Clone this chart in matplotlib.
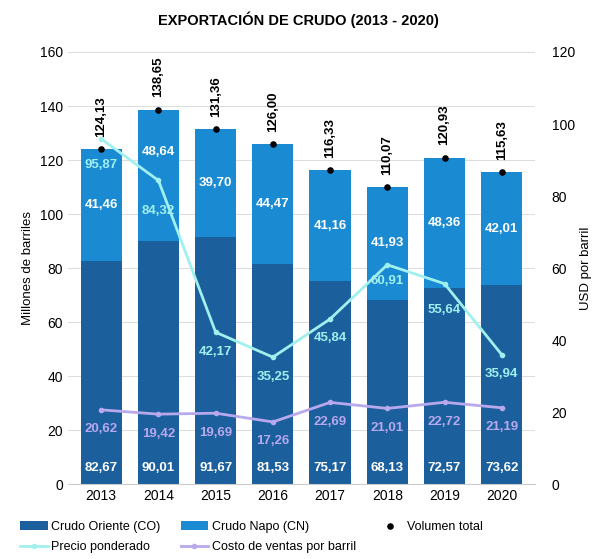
import numpy as np
import matplotlib.pyplot as plt

plt.rcParams['font.family'] = ['Liberation Sans', 'DejaVu Sans']

years = ['2013', '2014', '2015', '2016', '2017', '2018', '2019', '2020']
oriente = [82.67, 90.01, 91.67, 81.53, 75.17, 68.13, 72.57, 73.62]
napo = [41.46, 48.64, 39.70, 44.47, 41.16, 41.93, 48.36, 42.01]
total = [124.13, 138.65, 131.36, 126.00, 116.33, 110.07, 120.93, 115.63]
precio = [95.87, 84.32, 42.17, 35.25, 45.84, 60.91, 55.64, 35.94]
costo = [20.62, 19.42, 19.69, 17.26, 22.69, 21.01, 22.72, 21.19]

def fmt(v):
    return f'{v:.2f}'.replace('.', ',')

c_or = '#1b5f9c'
c_na = '#1a8ad3'
c_pr = '#a0f0ee'
c_co = '#b8a8ee'

fig = plt.figure(figsize=(5.97, 5.59), dpi=100)
ax = fig.add_axes([0.114, 0.134, 0.782, 0.773])
x = np.arange(len(years))

b1 = ax.bar(x, oriente, width=0.72, color=c_or, label='Crudo Oriente (CO)', zorder=2)
b2 = ax.bar(x, napo, width=0.72, bottom=oriente, color=c_na, label='Crudo Napo (CN)', zorder=2)
sc = ax.scatter(x, total, color='black', s=14, zorder=4, label='Volumen total')

for i in range(len(x)):
    ax.text(x[i], total[i] + 4.5, fmt(total[i]), rotation=90, ha='center', va='bottom',
            fontsize=9.5, fontweight='bold', color='black')
    # 2014 label sits higher to stay clear of the price label
    ny = oriente[i] + napo[i] * (0.68 if i == 1 else 0.5)
    ax.text(x[i], ny, fmt(napo[i]), ha='center', va='center',
            fontsize=9.5, fontweight='bold', color='white', zorder=5)
    ax.text(x[i], 6, fmt(oriente[i]), ha='center', va='center',
            fontsize=9.5, fontweight='bold', color='white', zorder=5)

ax.set_ylim(0, 160)
ax.set_yticks(range(0, 161, 20))
ax.set_xlim(-0.58, 7.58)
ax.set_xticks(x)
ax.set_xticklabels(years)
ax.set_ylabel('Millones de barriles', fontsize=9.5)
ax.grid(axis='y', color='#dddddd', linewidth=0.8, zorder=0)
ax.set_axisbelow(True)
for s in ['top', 'right', 'left']:
    ax.spines[s].set_visible(False)
ax.spines['bottom'].set_color('#cccccc')
ax.tick_params(length=0, labelsize=10)

ax2 = ax.twinx()
ax2.set_ylim(0, 120)
ax2.set_yticks(range(0, 121, 20))
l1, = ax2.plot(x, precio, color=c_pr, linewidth=2, marker='o', markersize=3, label='Precio ponderado', zorder=3)
l2, = ax2.plot(x, costo, color=c_co, linewidth=2, marker='o', markersize=3, label='Costo de ventas por barril', zorder=3)
pr_off = [-19, -22, -14, -14, -14, -12, -19, -14]
for i in range(len(x)):
    ax2.annotate(fmt(precio[i]), (x[i], precio[i]), xytext=(0, pr_off[i]), textcoords='offset points',
                 ha='center', va='center', fontsize=9.5, fontweight='bold', color=c_pr)
    ax2.annotate(fmt(costo[i]), (x[i], costo[i]), xytext=(0, -14), textcoords='offset points',
                 ha='center', va='center', fontsize=9.5, fontweight='bold', color=c_co)
ax2.set_ylabel('USD por barril', fontsize=9.5)
for s in ['top', 'right', 'left', 'bottom']:
    ax2.spines[s].set_visible(False)
ax2.tick_params(length=0, labelsize=10, pad=12)

fig.text(0.5, 0.965, 'EXPORTACIÓN DE CRUDO (2013 - 2020)', ha='center', va='center',
         fontsize=10.5, fontweight='bold')

handles = [b1, l1, b2, l2, sc]
fig.legend(handles=handles, labels=[h.get_label() for h in handles], ncol=3,
           loc='lower left', bbox_to_anchor=(0.015, -0.01), frameon=False, fontsize=9,
           handlelength=2.2, handletextpad=0.3, columnspacing=1.6, labelspacing=0.7)

fig.savefig('out.png', dpi=100)
